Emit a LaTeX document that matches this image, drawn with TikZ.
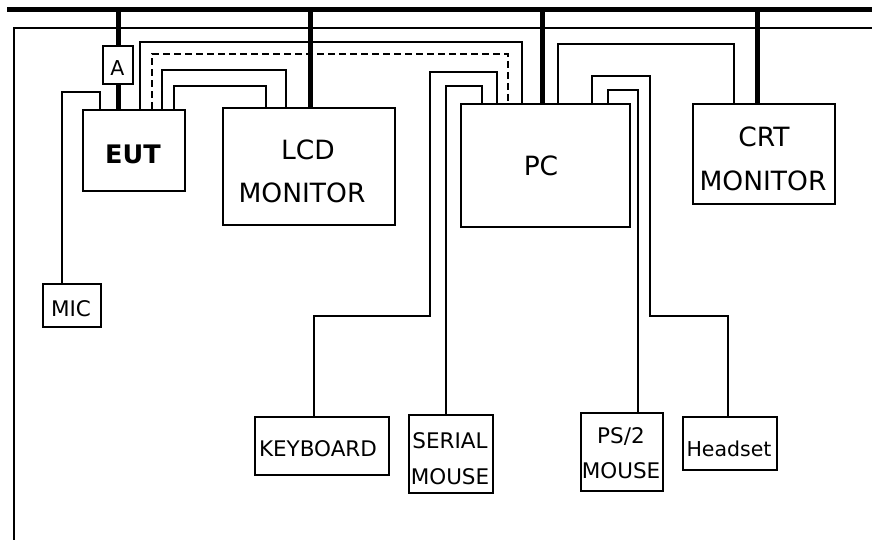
\documentclass[tikz,border=0pt]{standalone}
\usepackage{fontspec}
\setmainfont{DejaVu Sans}
\begin{document}
\begin{tikzpicture}[x=1pt,y=-1pt,
  cable/.style={line width=2pt},
  dcable/.style={line width=2pt, dash pattern=on 7pt off 4pt},
  power/.style={line width=5pt},
  frame/.style={line width=2pt},
  box/.style={draw, line width=2pt, inner sep=0pt, anchor=north west},
  bigtxt/.style={font=\fontsize{26.5}{30}\selectfont, anchor=base, inner sep=0pt},
  bigbold/.style={font=\bfseries\fontsize{25.5}{30}\selectfont, anchor=base, inner sep=0pt},
  smalltxt/.style={font=\fontsize{21.5}{25}\selectfont, anchor=base, inner sep=0pt},
  lowtxt/.style={font=\fontsize{20.5}{25}\selectfont, anchor=base, inner sep=0pt}]
\useasboundingbox (0,0) rectangle (872,540);

% bus and frame
\coordinate (busL) at (7,9.5);
\coordinate (busR) at (872,9.5);
\draw[power] (busL) -- (busR);
\coordinate (frB) at (14,540);
\coordinate (frC) at (14,28);
\coordinate (frR) at (872,28);
\draw[frame] (frB) -- (frC) -- (frR);

% boxes
\node[box, minimum width=30pt, minimum height=38pt] (a) at (102,45) {};
\node[box, minimum width=102pt, minimum height=81pt] (eut) at (82,109) {};
\node[box, minimum width=172pt, minimum height=117pt] (lcd) at (222,107) {};
\node[box, minimum width=169pt, minimum height=123pt] (pc) at (460,103) {};
\node[box, minimum width=142pt, minimum height=100pt] (crt) at (692,103) {};
\node[box, minimum width=58pt, minimum height=43pt] (mic) at (42,283) {};
\node[box, minimum width=134pt, minimum height=58pt] (kb) at (254,416) {};
\node[box, minimum width=84pt, minimum height=78pt] (sm) at (408,414) {};
\node[box, minimum width=82pt, minimum height=78pt] (ps) at (580,412) {};
\node[box, minimum width=94pt, minimum height=53pt] (hs) at (682,416) {};

% texts
\node[lowtxt] (aT) at (117.5,76) {A};
\node[bigbold] (eutT) at (133,164) {EUT};
\node[bigtxt] (lcdT1) at (308,160) {LCD};
\node[bigtxt] (lcdT2) at (302,203) {MONITOR};
\node[bigtxt] (pcT) at (541,176) {PC};
\node[bigtxt] (crtT1) at (764,147) {CRT};
\node[bigtxt] (crtT2) at (763,190) {MONITOR};
\node[smalltxt] (micT) at (71,316) {MIC};
\node[smalltxt] (kbT) at (318,456) {KEYBOARD};
\node[smalltxt] (smT1) at (450,448) {SERIAL};
\node[smalltxt] (smT2) at (450,484) {MOUSE};
\node[smalltxt] (psT1) at (621,443) {PS/2};
\node[smalltxt] (psT2) at (621,478) {MOUSE};
\node[lowtxt] (hsT) at (729,456) {Headset};

% power drops
\draw[power] (118,9.5) -- (118,0 |- a.north);
\draw[power] (118,0 |- a.south) -- (118,0 |- eut.north);
\draw[power] (310,9.5) -- (310,0 |- lcd.north);
\draw[power] (542,9.5) -- (542,0 |- pc.north);
\draw[power] (757,9.5) -- (757,0 |- crt.north);

% cables
\draw[cable] (62,0 |- mic.north) -- (62,92) -- (100,92) -- (100,0 |- eut.north);
\draw[cable] (140,0 |- eut.north) -- (140,42) -- (522,42) -- (522,0 |- pc.north);
\draw[dcable] (152,0 |- eut.north) -- (152,54) -- (508,54) -- (508,0 |- pc.north);
\draw[cable] (162,0 |- eut.north) -- (162,70) -- (286,70) -- (286,0 |- lcd.north);
\draw[cable] (174,0 |- eut.north) -- (174,86) -- (266,86) -- (266,0 |- lcd.north);
\draw[cable] (558,0 |- pc.north) -- (558,44) -- (734,44) -- (734,0 |- crt.north);
\draw[cable] (497,0 |- pc.north) -- (497,72) -- (430,72) -- (430,316) -- (314,316) -- (314,0 |- kb.north);
\draw[cable] (482,0 |- pc.north) -- (482,86) -- (446,86) -- (446,0 |- sm.north);
\draw[cable] (608,0 |- pc.north) -- (608,90) -- (638,90) -- (638,0 |- ps.north);
\draw[cable] (592,0 |- pc.north) -- (592,76) -- (650,76) -- (650,316) -- (728,316) -- (728,0 |- hs.north);
\end{tikzpicture}
\end{document}
